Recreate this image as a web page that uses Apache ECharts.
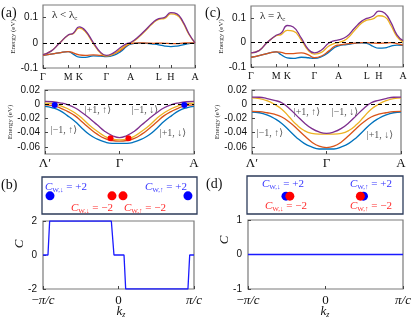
<!DOCTYPE html>
<html>
<head>
<meta charset="utf-8">
<script src="https://cdn.jsdelivr.net/npm/echarts@6/dist/echarts.min.js"></script>
<style>
  html, body { margin: 0; padding: 0; background: #fff; }
  #chart { width: 415px; height: 321px; }
</style>
</head>
<body>
<div id="chart"></div>
<script>
// high symmetry path (top panels)
const kTicks = [0, 25, 36, 63, 87, 115, 127, 151];
const kTickNames = ['Γ', 'M', 'K', 'Γ', 'A', 'L', 'H', 'A'];
const kPath = [0, 8, 16, 25, 30, 36, 42, 50, 57, 63, 70, 77, 83, 87, 95, 103, 110, 115, 121, 127, 133, 139, 145, 151];

// (a) lambda < lambda_c
const aPurple = [-0.047, -0.033, -0.003, 0.031, 0.038, 0.063, 0.049, 0.001, -0.037, -0.05, -0.04, -0.019, -0.003, 0.001, 0.025, 0.056, 0.084, 0.096, 0.101, 0.12, 0.115, 0.084, 0.036, 0];
const aYellow = [-0.047, -0.033, -0.003, 0.03, 0.036, 0.058, 0.045, -0.003, -0.04, -0.052, -0.044, -0.025, -0.008, -0.002, 0.022, 0.053, 0.081, 0.093, 0.097, 0.115, 0.11, 0.08, 0.033, 0];
const aOrange = [-0.05, -0.045, -0.04, -0.035, -0.04, -0.048, -0.05, -0.048, -0.05, -0.052, -0.045, -0.03, -0.012, -0.003, 0, -0.001, -0.002, -0.001, -0.002, -0.003, -0.003, -0.001, 0, 0];
const aBlue = [-0.05, -0.045, -0.04, -0.035, -0.045, -0.057, -0.058, -0.052, -0.053, -0.055, -0.05, -0.035, -0.015, -0.005, -0.001, -0.002, -0.005, -0.008, -0.013, -0.015, -0.013, -0.008, -0.003, 0];

// (c) lambda = lambda_c
const cPurple = [-0.042, -0.033, 0, 0.03, 0.039, 0.07, 0.064, 0.018, -0.028, -0.042, -0.03, -0.003, 0.008, 0.011, 0.025, 0.06, 0.088, 0.099, 0.108, 0.129, 0.12, 0.083, 0.032, 0.008];
const cYellow = [-0.042, -0.033, 0, 0.028, 0.033, 0.05, 0.047, 0.01, -0.033, -0.047, -0.04, -0.015, -0.003, 0, 0.015, 0.05, 0.08, 0.092, 0.097, 0.11, 0.105, 0.07, 0.025, 0.002];
const cOrange = [-0.06, -0.053, -0.045, -0.038, -0.04, -0.045, -0.045, -0.042, -0.05, -0.062, -0.055, -0.035, -0.015, -0.01, -0.005, -0.002, 0, 0, -0.002, -0.003, -0.002, 0, -0.004, -0.01];
const cBlue = [-0.06, -0.053, -0.045, -0.038, -0.05, -0.063, -0.065, -0.06, -0.062, -0.065, -0.058, -0.04, -0.02, -0.013, -0.008, -0.003, -0.001, -0.003, -0.015, -0.023, -0.022, -0.014, -0.01, -0.011];

// Lambda' - Gamma - A zoom (middle panels)
const kLine = [-1, -0.9, -0.8, -0.7, -0.6, -0.5, -0.4, -0.3, -0.2, -0.1, 0, 0.1, 0.2, 0.3, 0.4, 0.5, 0.6, 0.7, 0.8, 0.9, 1];
const aLinePurple = [0.004, 0.0035, 0.002, -0.0005, -0.005, -0.012, -0.02, -0.029, -0.038, -0.044, -0.047, -0.044, -0.038, -0.029, -0.02, -0.012, -0.005, -0.0005, 0.002, 0.0035, 0.004];
const aLineYellow = [0.0015, 0.001, -0.002, -0.006, -0.012, -0.02, -0.03, -0.038, -0.045, -0.049, -0.05, -0.049, -0.045, -0.038, -0.03, -0.02, -0.012, -0.006, -0.002, 0.001, 0.0015];
const aLineOrange = [-0.001, -0.002, -0.005, -0.01, -0.016, -0.025, -0.034, -0.042, -0.048, -0.051, -0.052, -0.051, -0.048, -0.042, -0.034, -0.025, -0.016, -0.01, -0.005, -0.002, -0.001];
const aLineBlue = [-0.003, -0.005, -0.009, -0.016, -0.024, -0.034, -0.043, -0.049, -0.053, -0.055, -0.055, -0.055, -0.053, -0.049, -0.043, -0.034, -0.024, -0.016, -0.009, -0.005, -0.003];
const cLinePurple = [0.01, 0.0098, 0.008, 0.0055, 0.002, -0.006, -0.016, -0.026, -0.034, -0.039, -0.041, -0.039, -0.034, -0.026, -0.016, -0.006, 0.002, 0.0055, 0.008, 0.0098, 0.01];
const cLineYellow = [0.009, 0.008, 0.005, 0, -0.007, -0.018, -0.029, -0.037, -0.041, -0.042, -0.042, -0.042, -0.041, -0.037, -0.029, -0.018, -0.007, 0, 0.005, 0.008, 0.009];
const cLineOrange = [-0.01, -0.0105, -0.012, -0.014, -0.018, -0.025, -0.034, -0.044, -0.053, -0.059, -0.061, -0.059, -0.053, -0.044, -0.034, -0.025, -0.018, -0.014, -0.012, -0.0105, -0.01];
const cLineBlue = [-0.011, -0.012, -0.015, -0.02, -0.027, -0.037, -0.047, -0.055, -0.06, -0.063, -0.063, -0.063, -0.06, -0.055, -0.047, -0.037, -0.027, -0.02, -0.015, -0.012, -0.011];
const aCrossBlue = [[-0.87, -0.001], [0.87, -0.001]];
const aCrossRed = [[-0.12, -0.048], [0.12, -0.048]];

// Weyl nodes along kz and Chern number
const weylBlueB = [[-0.907, 0.49], [0.92, 0.49]];
const weylRedB = [[-0.086, 0.49], [0.06, 0.49]];
const weylBlueD = [[-0.51, 0.47], [0.49, 0.47]];
const weylRedD = [[-0.46, 0.47], [0.45, 0.47]];
const cKzB = [-1, -0.934, -0.912, -0.095, -0.06, 0.073, 0.095, 0.92, 0.943, 1];
const cValB = [0, 0, 2, 2, 0, 0, -2, -2, 0, 0];
const cKzD = [-1, 1];
const cValD = [0, 0];

const serif = "'Liberation Serif', 'DejaVu Serif', serif";
const sans = "'Liberation Sans', Arial, sans-serif";
const COL = { blue: '#0072BD', orange: '#D95319', yellow: '#EDB120', purple: '#7E2F8E' };

let chart = echarts.init(document.getElementById('chart'));

function pairs(xs, ys) {
  return xs.map((x, i) => [x, ys[i]]);
}

function band(idx, xs, ys, color, zero) {
  let s = {
    type: 'line', xAxisIndex: idx, yAxisIndex: idx,
    data: pairs(xs, ys), showSymbol: false, smooth: true,
    lineStyle: { color: color, width: 1.3 }
  };
  if (zero) {
    s.markLine = {
      silent: true, symbol: 'none', label: { show: false },
      lineStyle: { type: [4, 3], color: '#000', width: 1 },
      data: [{ yAxis: 0 }]
    };
  }
  return s;
}

function dots(idx, data, color, size) {
  return {
    type: 'scatter', xAxisIndex: idx, yAxisIndex: idx, data: data,
    symbolSize: size, itemStyle: { color: color, opacity: 1 }, z: 5
  };
}

const tick = { inside: true, length: 3, lineStyle: { color: '#444' } };
const noLine = { show: false, onZero: false };

function pathX(idx) {
  return {
    gridIndex: idx, type: 'value', min: 0, max: 151,
    axisLine: noLine, splitLine: { show: false },
    axisTick: Object.assign({ customValues: kTicks }, tick),
    axisLabel: {
      customValues: kTicks, formatter: v => kTickNames[kTicks.indexOf(v)],
      fontFamily: serif, fontSize: 10, color: '#111', margin: 4
    }
  };
}

function lineX(idx) {
  const names = { '-1': 'Λ′', '0': 'Γ', '1': 'A' };
  return {
    gridIndex: idx, type: 'value', min: -1, max: 1,
    axisLine: noLine, splitLine: { show: false },
    axisTick: Object.assign({ customValues: [-1, 0, 1] }, tick),
    axisLabel: {
      customValues: [-1, 0, 1], formatter: v => names[String(v)],
      fontFamily: serif, fontSize: 13, color: '#111', margin: 3
    }
  };
}

function kzX(idx) {
  return {
    gridIndex: idx, type: 'value', min: -1, max: 1,
    axisLine: noLine, splitLine: { show: false },
    axisTick: Object.assign({ customValues: [-1, 0, 1] }, tick),
    axisLabel: {
      customValues: [-1, 0, 1],
      formatter: v => v === 0 ? '{n|0}' : (v < 0 ? '{n|−}{i|π/c}' : '{i|π/c}'),
      margin: 5,
      rich: {
        n: { fontFamily: serif, fontSize: 13, color: '#111' },
        i: { fontFamily: serif, fontSize: 13, fontStyle: 'italic', color: '#111' }
      }
    }
  };
}

function boxX(idx, min, max) {
  return { gridIndex: idx, type: 'value', min: min, max: max, show: false };
}

function energyY(idx, min, max, ticks, gap, fmt) {
  return {
    gridIndex: idx, type: 'value', min: min, max: max,
    axisLine: noLine, splitLine: { show: false },
    axisTick: Object.assign({ customValues: ticks }, tick),
    axisLabel: {
      customValues: ticks, formatter: fmt,
      fontFamily: sans, fontSize: 10, color: '#111', margin: 5
    },
    name: 'Energy (eV)', nameLocation: 'middle', nameGap: gap,
    nameTextStyle: { fontFamily: serif, fontSize: 7, color: '#333' }
  };
}

const fmtTop = v => v === 0 ? '0' : String(v);
const fmtLine = v => v === 0 ? '0' : v.toFixed(2);

function chernY(idx, min, max) {
  const ticks = [min, 0, max];
  return {
    gridIndex: idx, type: 'value', min: min, max: max,
    axisLine: noLine, splitLine: { show: false },
    axisTick: Object.assign({ customValues: ticks }, tick),
    axisLabel: {
      customValues: ticks, formatter: v => String(v),
      fontFamily: sans, fontSize: 10, color: '#111', margin: 6
    }
  };
}

const plotBorder = { show: true, borderColor: '#7a7a7a', borderWidth: 1.2 };
const boxBorder = { show: true, borderColor: '#2c3b5a', borderWidth: 1.3 };

function cw(x, y, arrow, val, color) {
  return {
    type: 'text', x: x, y: y,
    style: {
      text: '{c|C}{s|W,' + arrow + '}{t| = ' + val + '}',
      align: 'center', verticalAlign: 'middle',
      rich: {
        c: { fontFamily: serif, fontStyle: 'italic', fontSize: 11, fill: color, lineHeight: 13 },
        s: { fontFamily: serif, fontSize: 7, fill: color, lineHeight: 9, verticalAlign: 'bottom' },
        t: { fontFamily: serif, fontSize: 11, fill: color, lineHeight: 13 }
      }
    }
  };
}

function plain(x, y, text, size, extra) {
  return {
    type: 'text', x: x, y: y,
    style: Object.assign({
      text: text, fontFamily: serif, fontSize: size, fill: '#111',
      align: 'left', verticalAlign: 'middle'
    }, extra || {})
  };
}

function lam(x, y, rel) {
  return {
    type: 'text', x: x, y: y,
    style: {
      text: '{a|λ ' + rel + ' λ}{s|c}', verticalAlign: 'middle',
      rich: {
        a: { fontFamily: serif, fontSize: 11, fill: '#111', lineHeight: 13 },
        s: { fontFamily: serif, fontSize: 7, fill: '#111', lineHeight: 9, verticalAlign: 'bottom' }
      }
    }
  };
}

function kz(x, y) {
  return {
    type: 'text', x: x, y: y,
    style: {
      text: '{k|k}{s|z}', align: 'center', verticalAlign: 'middle',
      rich: {
        k: { fontFamily: serif, fontStyle: 'italic', fontSize: 13, fill: '#111', lineHeight: 14 },
        s: { fontFamily: serif, fontStyle: 'italic', fontSize: 8, fill: '#111', lineHeight: 9, verticalAlign: 'bottom' }
      }
    }
  };
}

function state(x, y, text) {
  return plain(x, y, text, 10, { fill: '#555', align: 'center' });
}

const blueText = '#3535ff';
const redText = '#ff2a2a';

let option = {
  animation: false,
  backgroundColor: '#fff',
  grid: [
    Object.assign({ left: 43, top: 5, width: 152, height: 63 }, plotBorder),
    Object.assign({ left: 45, top: 90, width: 149, height: 64 }, plotBorder),
    Object.assign({ left: 251, top: 6, width: 152, height: 61 }, plotBorder),
    Object.assign({ left: 252, top: 90, width: 149, height: 64 }, plotBorder),
    Object.assign({ left: 42, top: 177, width: 155, height: 37 }, boxBorder),
    Object.assign({ left: 43, top: 221, width: 151, height: 68 }, plotBorder),
    Object.assign({ left: 247, top: 176, width: 156, height: 38 }, boxBorder),
    Object.assign({ left: 248, top: 220, width: 155, height: 69 }, plotBorder)
  ],
  xAxis: [
    pathX(0), lineX(1), pathX(2), lineX(3),
    boxX(4, -1.013, 1.04), kzX(5), boxX(6, -1.013, 1.0), kzX(7)
  ],
  yAxis: [
    energyY(0, -0.1, 0.15, [-0.1, 0, 0.1], 23, fmtTop),
    energyY(1, -0.07, 0.02, [-0.06, -0.04, -0.02, 0, 0.02], 25, fmtLine),
    energyY(2, -0.1, 0.15, [-0.1, 0, 0.1], 26, fmtTop),
    energyY(3, -0.07, 0.02, [-0.06, -0.04, -0.02, 0, 0.02], 28, fmtLine),
    { gridIndex: 4, type: 'value', min: 0, max: 1, show: false },
    chernY(5, -2, 2),
    { gridIndex: 6, type: 'value', min: 0, max: 1, show: false },
    chernY(7, -1, 1)
  ],
  series: [
    band(0, kPath, aBlue, COL.blue), band(0, kPath, aOrange, COL.orange),
    band(0, kPath, aYellow, COL.yellow), band(0, kPath, aPurple, COL.purple, true),
    band(1, kLine, aLineBlue, COL.blue), band(1, kLine, aLineOrange, COL.orange),
    band(1, kLine, aLineYellow, COL.yellow), band(1, kLine, aLinePurple, COL.purple, true),
    dots(1, aCrossBlue, '#0000ff', 6), dots(1, aCrossRed, '#ff0000', 6),
    band(2, kPath, cBlue, COL.blue), band(2, kPath, cOrange, COL.orange),
    band(2, kPath, cYellow, COL.yellow), band(2, kPath, cPurple, COL.purple, true),
    band(3, kLine, cLineBlue, COL.blue), band(3, kLine, cLineOrange, COL.orange),
    band(3, kLine, cLineYellow, COL.yellow), band(3, kLine, cLinePurple, COL.purple, true),
    dots(4, weylBlueB, '#0000ff', 9), dots(4, weylRedB, '#ff0000', 9),
    {
      type: 'line', xAxisIndex: 5, yAxisIndex: 5, data: pairs(cKzB, cValB),
      showSymbol: false, lineStyle: { color: '#1a1aff', width: 1.3 }
    },
    dots(6, weylBlueD, '#0000ff', 9), dots(6, weylRedD, '#ff0000', 9),
    {
      type: 'line', xAxisIndex: 7, yAxisIndex: 7, data: pairs(cKzD, cValD),
      showSymbol: false, lineStyle: { color: '#1a1aff', width: 1.3 }
    }
  ],
  graphic: [
    plain(1, 13, '(a)', 14), plain(205, 13, '(c)', 14),
    plain(1, 185, '(b)', 14), plain(206, 184, '(d)', 14),
    lam(52, 15, '<'), lam(260, 16, '='),
    state(98, 110, '|+1, ↑⟩'), state(145, 110, '|−1, ↓⟩'),
    state(64, 130, '|−1, ↑⟩'), state(173, 133, '|+1, ↓⟩'),
    state(307, 112, '|+1, ↑⟩'), state(345, 112, '|−1, ↓⟩'),
    state(270, 133, '|−1, ↑⟩'), state(380, 135, '|+1, ↓⟩'),
    cw(66, 187, '↓', '+2', blueText), cw(166, 187, '↑', '+2', blueText),
    cw(92, 208, '↓', '−2', redText), cw(145, 208, '↑', '−2', redText),
    cw(283, 184, '↓', '+2', blueText), cw(371, 184, '↑', '+2', blueText),
    cw(286, 206, '↓', '−2', redText), cw(371, 206, '↑', '−2', redText),
    kz(121, 312), kz(325, 312),
    {
      type: 'text', x: 20, y: 244, rotation: Math.PI / 2,
      style: { text: 'C', fontFamily: serif, fontStyle: 'italic', fontSize: 13, fill: '#111', align: 'center', verticalAlign: 'middle' }
    },
    {
      type: 'text', x: 225, y: 240, rotation: Math.PI / 2,
      style: { text: 'C', fontFamily: serif, fontStyle: 'italic', fontSize: 13, fill: '#111', align: 'center', verticalAlign: 'middle' }
    }
  ]
};

chart.setOption(option);
</script>
</body>
</html>
